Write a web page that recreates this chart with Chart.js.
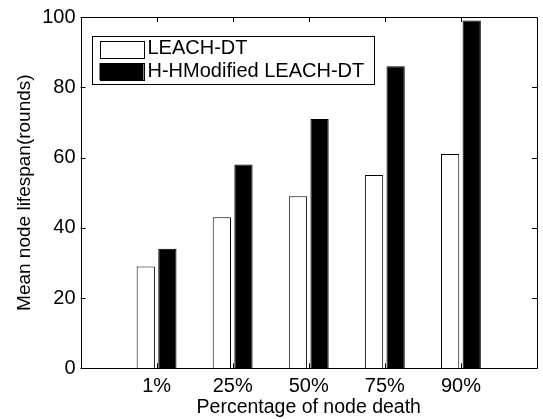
<!DOCTYPE html>
<html>
<head>
<meta charset="utf-8">
<script src="https://cdn.jsdelivr.net/npm/chart.js@4/dist/chart.umd.min.js"></script>
<style>
  html, body { margin: 0; padding: 0; background: #fff; }
  #wrap { width: 543px; height: 419px; }
</style>
</head>
<body>
<div id="wrap"><canvas id="c" width="543" height="419"></canvas></div>
<script>
// Node death stages on the x axis
const categories = ['1%', '25%', '50%', '75%', '90%'];
// Mean node lifespan (rounds) for each protocol
const leachDT = [29, 43, 49, 55, 61];
const hhModified = [34, 58, 71, 86, 99];
const seriesNames = ['LEACH-DT', 'H-HModified LEACH-DT'];
const yTicks = [0, 20, 40, 60, 80, 100];

const FONT = "'Liberation Sans', Arial, Helvetica, sans-serif";

// Empty slots on both ends leave room around the groups (x from 0 to 6)
const labels = [''].concat(categories, ['']);
const pad = arr => [null].concat(arr, [null]);

// Box around the plot with inward tick marks on all four sides
const frame = {
  id: 'frame',
  afterDatasetsDraw(chart) {
    const { ctx, chartArea: a, scales } = chart;
    const xs = scales.x, ys = scales.y;
    const tl = 5;
    ctx.save();
    ctx.strokeStyle = '#000';
    ctx.lineWidth = 1;
    ctx.beginPath();
    ctx.rect(Math.round(a.left) + 0.5, Math.round(a.top) + 0.5,
             Math.round(a.right - a.left) - 1, Math.round(a.bottom - a.top));
    categories.forEach((c, i) => {
      const px = Math.round(xs.getPixelForValue(i + 1)) + 0.5;
      ctx.moveTo(px, a.bottom);
      ctx.lineTo(px, a.bottom - tl);
      ctx.moveTo(px, a.top);
      ctx.lineTo(px, a.top + tl);
    });
    yTicks.forEach(v => {
      const py = Math.round(ys.getPixelForValue(v)) + 0.5;
      ctx.moveTo(a.left, py);
      ctx.lineTo(a.left + tl, py);
      ctx.moveTo(a.right, py);
      ctx.lineTo(a.right - tl, py);
    });
    ctx.stroke();
    ctx.restore();
  }
};

// Legend box in the upper-left corner of the plot
const legendBox = {
  id: 'legendBox',
  afterDraw(chart) {
    const { ctx, chartArea: a } = chart;
    const x0 = a.left + 11, y0 = a.top + 18.5, w = 282, h = 48;
    ctx.save();
    ctx.fillStyle = '#fff';
    ctx.fillRect(x0, y0, w, h);
    ctx.strokeStyle = '#000';
    ctx.lineWidth = 1;
    ctx.strokeRect(Math.round(x0) + 0.5, Math.round(y0) + 0.5, w, h);
    ctx.font = '20px ' + FONT;
    ctx.textBaseline = 'middle';
    ctx.textAlign = 'left';
    chart.data.datasets.forEach((ds, i) => {
      const cy = y0 + 13 + i * 22.5;
      const sx = x0 + 8;
      ctx.fillStyle = ds.backgroundColor;
      ctx.fillRect(sx, cy - 8, 44, 17);
      ctx.strokeStyle = '#000';
      ctx.strokeRect(Math.round(sx) + 0.5, Math.round(cy - 8) + 0.5, 44, 17);
      ctx.fillStyle = '#000';
      ctx.fillText(ds.label, sx + 48, cy);
    });
    ctx.restore();
  }
};

new Chart(document.getElementById('c'), {
  type: 'bar',
  data: {
    labels: labels,
    datasets: [
      { label: seriesNames[0], data: pad(leachDT), backgroundColor: '#ffffff',
        borderColor: '#000000', borderWidth: 1 },
      { label: seriesNames[1], data: pad(hhModified), backgroundColor: '#000000',
        borderColor: '#000000', borderWidth: 1 }
    ]
  },
  options: {
    responsive: false,
    animation: false,
    devicePixelRatio: 1,
    categoryPercentage: 0.568,
    barPercentage: 0.845,
    layout: { padding: { top: 16.5, right: 2, left: 0, bottom: 0 } },
    plugins: { legend: { display: false }, tooltip: { enabled: false } },
    scales: {
      x: {
        offset: false,
        grid: { display: false, drawTicks: false },
        border: { display: false },
        ticks: { autoSkip: false, maxRotation: 0, padding: 6, color: '#000',
                 font: { family: FONT, size: 20 } },
        title: { display: true, text: 'Percentage of node death', color: '#000',
                 font: { family: FONT, size: 19.5 }, padding: { top: 0, bottom: 0 } },
        afterFit(s) { s.height = 50.7; }
      },
      y: {
        min: 0, max: 100,
        afterBuildTicks(s) { s.ticks = yTicks.map(v => ({ value: v })); },
        grid: { display: false, drawTicks: false },
        border: { display: false },
        ticks: { padding: 5, color: '#000', font: { family: FONT, size: 20 } },
        title: { display: true, text: 'Mean node lifespan(rounds)', color: '#000',
                 font: { family: FONT, size: 19 }, padding: { top: 13, bottom: 0 } },
        afterFit(s) { s.width = 80.5; }
      }
    }
  },
  plugins: [frame, legendBox]
});
</script>
</body>
</html>
